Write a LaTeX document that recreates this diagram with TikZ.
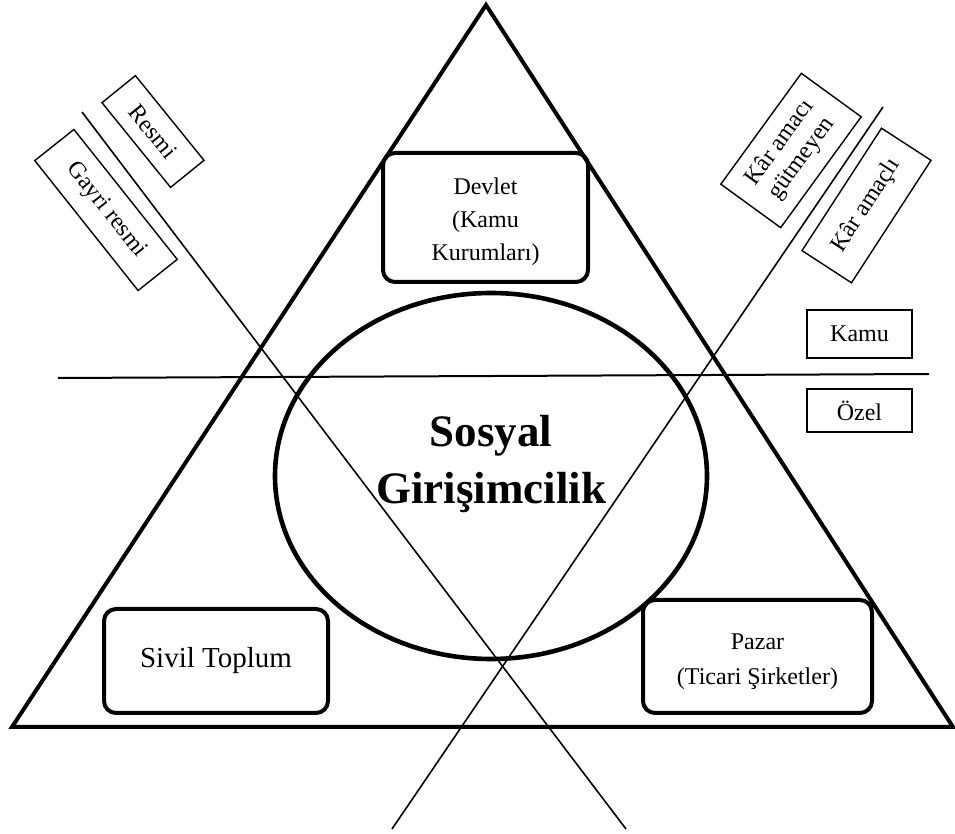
\documentclass[tikz,border=0pt]{standalone}
\usepackage{fontspec}
\setmainfont{Liberation Serif}
\usetikzlibrary{shapes.geometric}

\begin{document}
\begin{tikzpicture}[x=0.5pt,y=-0.5pt]
                \tikzstyle{every node}+=[inner sep=0pt]
                \tikzstyle{kutu}=[draw=black, line width=2pt, rounded corners=6pt, align=center, font=\fontsize{12}{16.5}\selectfont]
                \tikzstyle{etiket}=[draw=black, line width=0.7pt, align=center, font=\fontsize{12}{14}\selectfont]
                \useasboundingbox (0,0) rectangle (955,834);
                % ucgen
                \coordinate (tepe) at (486,5);
                \coordinate (solalt) at (12,727);
                \coordinate (sagalt) at (953,727);
                \draw [black, line width=2pt] (tepe) -- (sagalt) -- (solalt) -- cycle;
                % ayirici cizgiler
                \coordinate (yatay1) at (58,378);
                \coordinate (yatay2) at (929,374);
                \coordinate (resmi1) at (82,112);
                \coordinate (resmi2) at (626,829);
                \coordinate (kar1) at (883,107);
                \coordinate (kar2) at (392,829);
                \draw [black, line width=1pt] (yatay1) -- (yatay2);
                \draw [black, line width=0.8pt] (resmi1) -- (resmi2);
                \draw [black, line width=0.8pt] (kar1) -- (kar2);
                % orta
                \node [draw=black, line width=2.3pt, ellipse, minimum width=216pt, minimum height=183pt] (sosyal) at (491,476) {};
                \node [align=center, font=\fontsize{22.5}{28.5}\selectfont\bfseries, yshift=6pt] (sosyalyazi) at (sosyal.center) {Sosyal\\Girişimcilik};
                % kutular
                \node [kutu, minimum width=102.5pt, minimum height=64.5pt] (devlet) at (485.5,217.5) {};
                \node [align=center, font=\fontsize{12}{16.5}\selectfont, yshift=-2pt] (devletyazi) at (devlet.center) {Devlet\\(Kamu\\Kurumları)};
                \node [kutu, minimum width=112pt, minimum height=52pt, font=\fontsize{14.5}{17}\selectfont] (sivil) at (216,661) {Sivil Toplum};
                \node [kutu, minimum width=114.5pt, minimum height=56.5pt] (pazar) at (757.5,656.5) {};
                \node [align=center, font=\fontsize{12}{17.5}\selectfont, yshift=-2.5pt] (pazaryazi) at (pazar.center) {Pazar\\(Ticari Şirketler)};
                % etiketler
                \node [etiket, minimum width=52.5pt, minimum height=24pt] (kamu) at (859.5,334) {Kamu};
                \node [etiket, minimum width=52.5pt, minimum height=21.5pt] (ozel) at (859.5,410.5) {Özel};
                \node [etiket, minimum width=54.5pt, minimum height=21.5pt, rotate=-51] (resmi) at (153,131.5) {Resmi};
                \node [etiket, minimum width=83pt, minimum height=25pt, rotate=-51.5] (gayriresmi) at (106,210) {Gayri resmi};
                \node [etiket, minimum width=68.5pt, minimum height=37pt, rotate=54, font=\fontsize{12}{13.5}\selectfont] (karsiz) at (791,150.5) {Kâr amacı\\gütmeyen};
                \node [etiket, minimum width=73pt, minimum height=29.5pt, rotate=57] (karli) at (866.5,205.5) {Kâr amaçlı};
              \end{tikzpicture}
\end{document}
